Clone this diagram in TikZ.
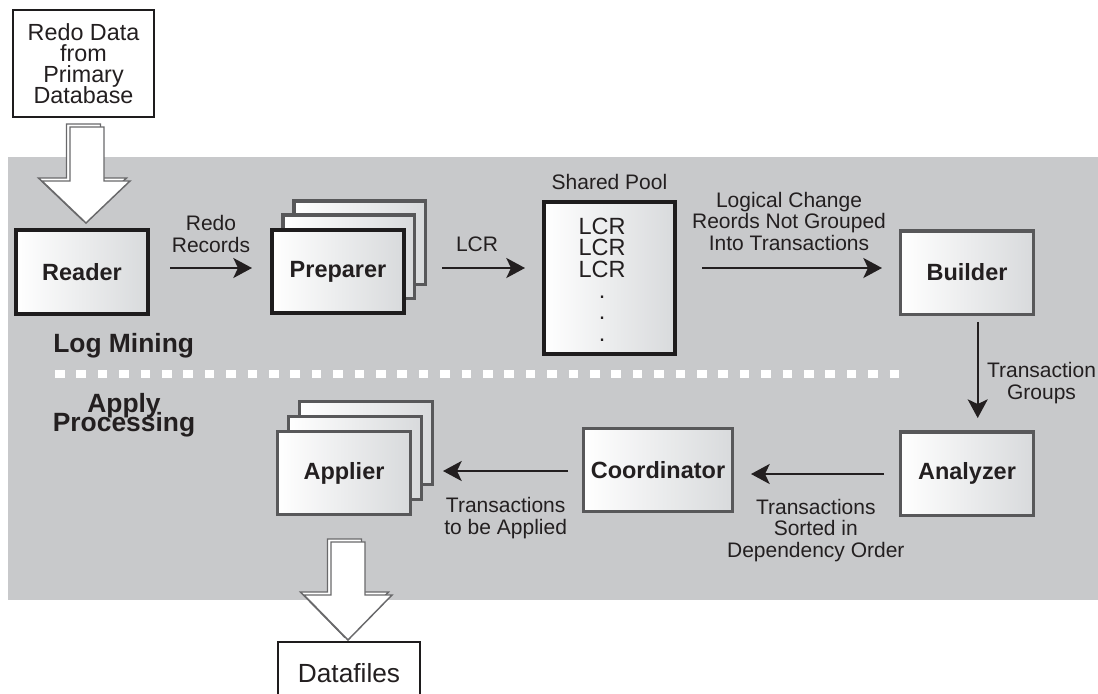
\documentclass[tikz,border=0pt]{standalone}
\usepackage{fontspec}
\setmainfont{Liberation Sans}
\usetikzlibrary{arrows.meta}
\definecolor{bg}{RGB}{200,201,203}
\definecolor{gradc}{RGB}{216,218,220}
\definecolor{bdark}{RGB}{30,28,29}
\definecolor{bgray}{RGB}{88,88,90}
\definecolor{txt}{RGB}{35,31,32}
\definecolor{agray}{RGB}{105,105,107}
\begin{document}
\begin{tikzpicture}[x=0.75pt,y=-0.75pt,
  every node/.append style={text=txt, execute at begin node={\lineskiplimit=-100pt}},
  procbox/.style={rectangle, inner sep=0pt, left color=white, middle color=white, right color=gradc,
    font=\bfseries\fontsize{17.6}{20}\selectfont},
  darkedge/.style={draw=bdark, line width=3pt},
  grayedge/.style={draw=bgray, line width=2.6pt},
  lbl/.style={font=\fontsize{15.75}{15.9}\selectfont, align=center, anchor=base, inner sep=0pt},
  conn/.style={draw=txt, line width=1.7pt, -{Stealth[length=14pt,width=15pt,inset=3.5pt]}},
  blockarrow/.style={draw=agray, line width=1.1pt, fill=white, line join=miter},
]
\useasboundingbox (0,0) rectangle (1098,693);
\clip (0,0) rectangle (1098,693);

% background band
\fill[bg] (8,157) rectangle (1098,600);
% separator
\draw[white, line width=5.8pt, dash pattern=on 7.125pt off 8.925pt] (55,374) -- (900,374);

% block arrows
\draw[blockarrow] (66.5,124) -- (100.5,124) -- (100.5,178) -- (126.5,178) -- (82.5,220) -- (38.5,178) -- (66.5,178) -- cycle;
\draw[blockarrow] (70,127) -- (104,127) -- (104,181) -- (130,181) -- (86,223) -- (42,181) -- (70,181) -- cycle;
\draw[blockarrow] (327.5,539) -- (361.5,539) -- (361.5,592) -- (388.5,592) -- (344.5,637) -- (300.5,592) -- (327.5,592) -- cycle;
\draw[blockarrow] (331,542) -- (365,542) -- (365,595) -- (392,595) -- (348,640) -- (304,595) -- (331,595) -- cycle;

% source and sink
\node[rectangle, draw=bdark, line width=1.5pt, fill=white, minimum width=105.75pt, minimum height=80.25pt,
  inner sep=0pt, align=center, font=\fontsize{17.5}{15.7}\selectfont] (src) at (83.5,63.5)
  {Redo Data\\from\\Primary\\Database};
\node[rectangle, draw=bdark, line width=1.5pt, fill=white, minimum width=106.5pt, minimum height=52.5pt,
  inner sep=0pt, anchor=north, font=\fontsize{19.7}{20}\selectfont, text depth=6.75pt] (data) at (349,641) {Datafiles};

% process boxes
\node[procbox, darkedge, minimum width=99pt, minimum height=63pt] (reader) at (82,272) {Reader};

\node[procbox, grayedge, minimum width=98.6pt, minimum height=62.6pt] (prepC) at (359.5,242.5) {};
\node[procbox, grayedge, minimum width=98.6pt, minimum height=62.6pt] (prepB) at (348.5,256.5) {};
\node[procbox, darkedge, minimum width=99pt, minimum height=62.25pt] (prep) at (338,271.5) {Preparer};

\node[procbox, darkedge, minimum width=98.25pt, minimum height=114pt] (pool) at (609.5,278) {};

\node[procbox, grayedge, minimum width=99.4pt, minimum height=62.6pt] (builder) at (967,272.5) {Builder};
\node[procbox, grayedge, minimum width=99.4pt, minimum height=62.6pt] (analyzer) at (967,473.5) {Analyzer};
\node[procbox, grayedge, minimum width=111.4pt, minimum height=61.9pt] (coord) at (658,470) {Coordinator};

\node[procbox, grayedge, minimum width=99.4pt, minimum height=61.9pt] (applC) at (366,443) {};
\node[procbox, grayedge, minimum width=99.4pt, minimum height=61.9pt] (applB) at (355,458) {};
\node[procbox, grayedge, minimum width=99.4pt, minimum height=61.9pt] (appl) at (344,473) {Applier};

% texts (base anchor = baseline of last line)
\node[lbl] (lRedo) at (211,252) {Redo\\Records};
\node[lbl] (lLCR) at (477,251) {LCR};
\node[lbl] (lPool) at (609.5,189) {Shared Pool};
\node[lbl, font=\fontsize{17.6}{16}\selectfont] (lcrs) at (602,341) {LCR\\LCR\\LCR\\.\\.\\.};
\node[lbl] (lLog) at (789,250) {Logical Change\\Reords Not Grouped\\Into Transactions};
\node[lbl] (lGroups) at (1041.5,399) {Transaction\\Groups};
\node[lbl] (lSorted) at (815.8,557) {Transactions\\Sorted in\\Dependency Order};
\node[lbl] (lApplied) at (505.7,534) {Transactions\\to be Applied};
\node[font=\bfseries\fontsize{19.8}{20}\selectfont, anchor=base west, inner sep=0pt] (logmining) at (53,352) {Log Mining};
\node[font=\bfseries\fontsize{19.8}{14.25}\selectfont, align=center, anchor=base, inner sep=0pt] (applyproc) at (124,431) {Apply\\Processing};

% connectors
\draw[conn] ([shift={(20,-4)}]reader.east) -- ([shift={(-18,-3.5)}]prep.west);
\draw[conn] ([shift={(36,-3.5)}]prep.east) -- ([shift={(-17,-10)}]pool.west);
\draw[conn] ([shift={(25,-10)}]pool.east) -- ([shift={(-17,-4.5)}]builder.west);
\draw[conn] ([shift={(10.7,6)}]builder.south) -- ([shift={(10.7,-12)}]analyzer.north);
\draw[conn] ([shift={(-15,0.5)}]analyzer.west) -- ([shift={(17,4)}]coord.east);
\draw[conn] ([shift={(-14,1)}]coord.west) -- ([shift={(31,-2)}]appl.east);
\end{tikzpicture}
\end{document}
